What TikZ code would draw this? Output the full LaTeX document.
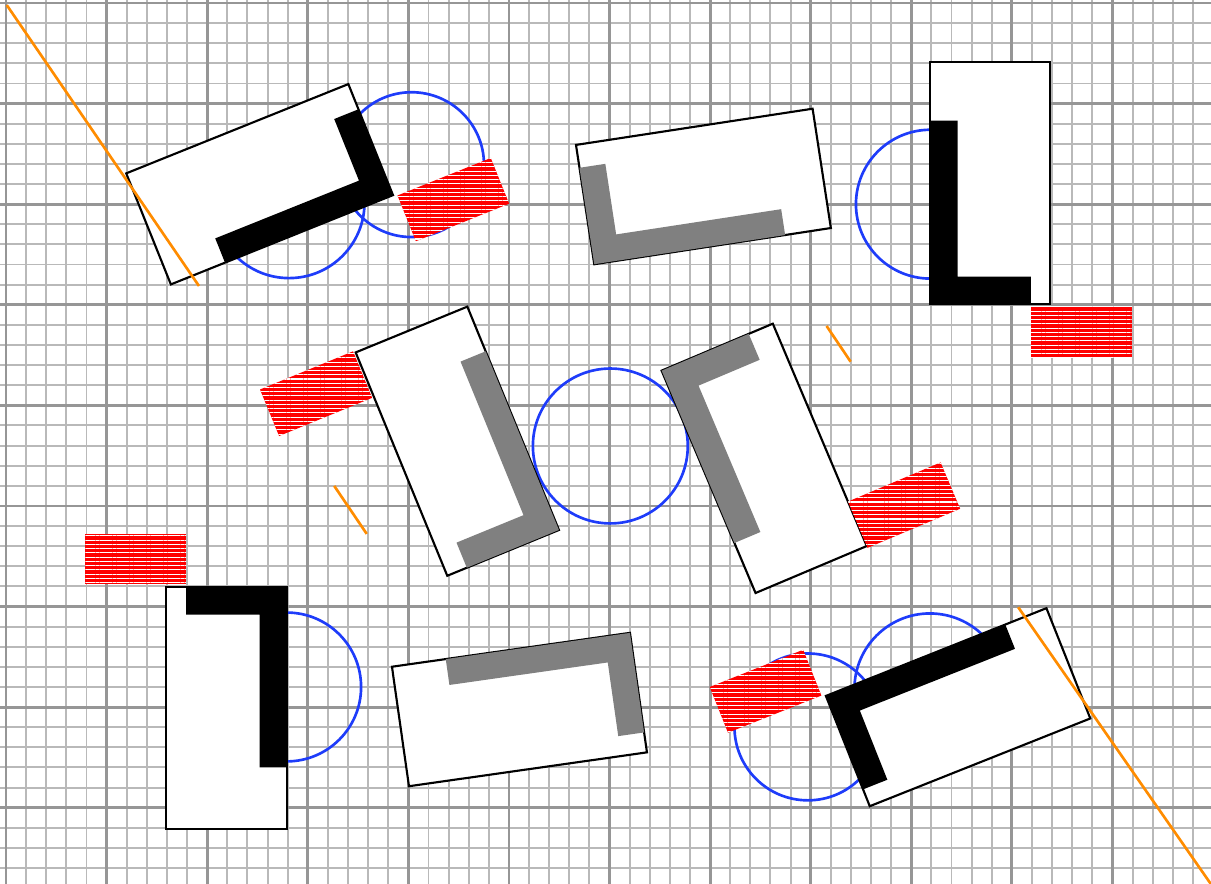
\documentclass[tikz,border=0pt]{standalone}
\usetikzlibrary{patterns.meta}
\definecolor{gridminor}{RGB}{185,185,185}
\definecolor{gridmajor}{RGB}{150,150,150}
\definecolor{swing}{RGB}{30,60,250}
\definecolor{ray}{RGB}{255,140,0}
\tikzset{
  desk/.style={draw=black, fill=white, line width=0.6pt},
  blackbar/.style={fill=black},
  graybar/.style={fill=gray},
  chair/.style={draw=swing, line width=0.75pt},
  zone/.style={fill=red, postaction={pattern={Lines[distance=1.2pt, line width=0.3pt]}, pattern color=white}},
  cut/.style={draw=ray, line width=0.75pt}
}

\begin{document}
\begin{tikzpicture}
  \useasboundingbox (-0.06,-8.757) rectangle (11.98,0.03);
  \clip (-0.06,-8.757) rectangle (11.98,0.03);
  % grid paper
  \draw[gridminor, line width=0.55pt, step=0.2] (-0.06,-8.757) grid (11.98,0.03);
  \draw[gridmajor, line width=0.8pt, step=1] (-0.06,-8.757) grid (11.98,0.03);

  % chairs
  \draw[chair] (2.814,-1.985) circle (0.75);
  \draw[chair] (4.032,-1.607) circle (0.72);
  \draw[chair] (9.19,-2.0) circle (0.74);
  \draw[chair] (6.008,-4.404) circle (0.77);
  \draw[chair] (2.79,-6.80) circle (0.74);
  \draw[chair] (9.185,-6.819) circle (0.75);
  \draw[chair] (7.972,-7.197) circle (0.73);

  % desk top left
  \begin{scope}[shift={(3.847,-1.91)}, rotate=111.9]
    \draw[desk] (0,0) rectangle (1.19,2.38);
    \fill[blackbar] (0,0) -| (0.92,0.26) -| (0.26,1.8) -| cycle;
    \coordinate (tl-a) at (-0.51,-1.04);
    \coordinate (tl-b) at (-0.02,-1.04);
    \coordinate (tl-c) at (-0.02,-0.04);
    \coordinate (tl-d) at (-0.51,-0.04);
  \end{scope}
  % desk top middle
  \begin{scope}[shift={(5.848,-2.597)}, rotate=-81.3, xscale=-1]
    \draw[desk] (0,0) rectangle (1.2,2.38);
    \fill[graybar] (0,0) -| (0.97,0.26) -| (0.26,1.92) -| cycle;
  \end{scope}
  % desk top right
  \begin{scope}[shift={(9.19,-2.99)}]
    \draw[desk] (0,0) rectangle (1.19,2.4);
    \fill[blackbar] (0,0) -| (1.0,0.27) -| (0.27,1.82) -| cycle;
    \coordinate (tr-a) at (1.0,-0.53);
    \coordinate (tr-b) at (2.0,-0.53);
    \coordinate (tr-c) at (2.0,-0.03);
    \coordinate (tr-d) at (1.0,-0.03);
  \end{scope}
  % desk middle left
  \begin{scope}[shift={(5.497,-5.239)}, rotate=22.3, xscale=-1]
    \draw[desk] (0,0) rectangle (1.2,2.4);
    \fill[graybar] (0,0) -| (0.99,0.27) -| (0.27,1.92) -| cycle;
    \coordinate (ml-a) at (1.22,1.92);
    \coordinate (ml-b) at (2.22,1.92);
    \coordinate (ml-c) at (2.22,2.42);
    \coordinate (ml-d) at (1.22,2.42);
  \end{scope}
  % desk middle right
  \begin{scope}[shift={(6.518,-3.655)}, rotate=202.9, xscale=-1]
    \draw[desk] (0,0) rectangle (1.2,2.4);
    \fill[graybar] (0,0) -| (0.94,0.28) -| (0.28,1.86) -| cycle;
    \coordinate (mr-a) at (1.2,1.92);
    \coordinate (mr-b) at (2.2,1.92);
    \coordinate (mr-c) at (2.2,2.42);
    \coordinate (mr-d) at (1.2,2.42);
  \end{scope}
  % desk bottom left
  \begin{scope}[shift={(2.79,-5.81)}, rotate=180]
    \draw[desk] (0,0) rectangle (1.2,2.4);
    \fill[blackbar] (0,0) -| (1.0,0.27) -| (0.27,1.79) -| cycle;
    \coordinate (bl-a) at (1.0,-0.53);
    \coordinate (bl-b) at (2.0,-0.53);
    \coordinate (bl-c) at (2.0,-0.03);
    \coordinate (bl-d) at (1.0,-0.03);
  \end{scope}
  % desk bottom middle
  \begin{scope}[shift={(6.203,-6.262)}, rotate=98.1, xscale=-1]
    \draw[desk] (0,0) rectangle (1.2,2.39);
    \fill[graybar] (0,0) -| (1.0,0.26) -| (0.26,1.85) -| cycle;
  \end{scope}
  % desk bottom right
  \begin{scope}[shift={(8.151,-6.889)}, rotate=-68.3]
    \draw[desk] (0,0) rectangle (1.18,2.36);
    \fill[blackbar] (0,0) -| (1.0,0.26) -| (0.26,1.92) -| cycle;
    \coordinate (br-a) at (-0.51,-1.04);
    \coordinate (br-b) at (-0.02,-1.04);
    \coordinate (br-c) at (-0.02,-0.04);
    \coordinate (br-d) at (-0.51,-0.04);
  \end{scope}

  % clearance zones, stripes kept level
  \foreach \d in {tl,tr,ml,mr,bl,br}
    \fill[zone] (\d-a) -- (\d-b) -- (\d-c) -- (\d-d) -- cycle;

  % cut lines
  \draw[cut] (0.007,-0.02) -- (1.918,-2.813);
  \draw[cut] (10.063,-6.007) -- (11.998,-8.787);
  \draw[cut] (8.158,-3.211) -- (8.397,-3.566);
  \draw[cut] (3.263,-4.801) -- (3.586,-5.278);
\end{tikzpicture}
\end{document}
